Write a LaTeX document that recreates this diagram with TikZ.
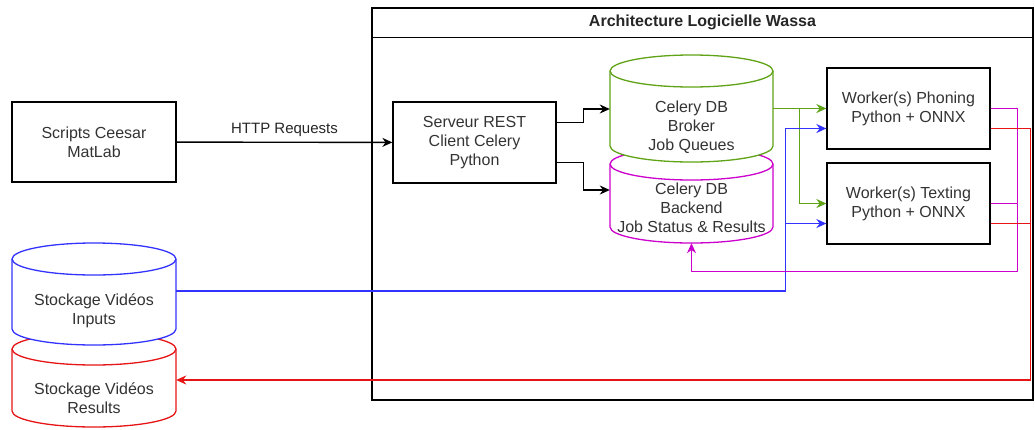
\documentclass[tikz,border=0pt]{standalone}
\usepackage{fontspec}
\setmainfont{Liberation Sans}
\usetikzlibrary{arrows.meta,calc}

\definecolor{brokergreen}{RGB}{96,163,23}
\definecolor{backendpink}{RGB}{204,0,204}
\definecolor{inputblue}{RGB}{51,51,255}
\definecolor{resultred}{RGB}{230,20,20}

% database cylinder: colour, left x, top y, right x, bottom y
\newcommand{\dbshape}[5]{%
\draw[#1, line width=1.3pt, fill=white] (#2,#3+16) -- (#2,#5-16)
  arc[start angle=180, end angle=360, x radius={(#4-#2)/2*1pt}, y radius=16pt]
  -- (#4,#3+16)
  arc[start angle=0, end angle=180, x radius={(#4-#2)/2*1pt}, y radius=16pt] -- cycle;
\draw[#1, line width=1.3pt] (#2,#3+16)
  arc[start angle=180, end angle=360, x radius={(#4-#2)/2*1pt}, y radius=16pt];}

\tikzset{
  box/.style={draw, line width=1.3pt, minimum width=163pt, minimum height=81pt, align=center, text=black!80},
  dbtext/.style={minimum width=163pt, align=center, text=black!80, inner sep=0pt},
  link/.style={line width=1.4pt, -{Stealth[length=10pt,width=9pt]}},
  stub/.style={line width=1.4pt},
}

\begin{document}
\begin{tikzpicture}[x=1pt, y=-1pt, font=\fontsize{16}{19}\selectfont]
\useasboundingbox (0,0) rectangle (1035,429);

% container
\node[draw, line width=1.3pt, minimum width=661pt, minimum height=392pt, inner sep=0pt] (archi) at (702.5,204) {};
\draw[line width=1.3pt] ([yshift=-30pt]archi.north west) -- ([yshift=-30pt]archi.north east);
\node[font=\fontsize{16}{19}\selectfont\bfseries, text=black!85] (title) at ([yshift=-15pt]archi.north) {Architecture Logicielle Wassa};

% databases
\dbshape{backendpink}{610}{148}{773}{243}
\dbshape{brokergreen}{610}{55}{773}{162}
\dbshape{resultred}{12}{333}{176}{427}
\dbshape{inputblue}{12}{243}{176}{345}

\node[dbtext] (broker) at (691.5,127) {Celery DB\\Broker\\Job Queues};
\node[dbtext, minimum height=70pt] (backend) at (691.5,208) {Celery DB\\Backend\\Job Status \& Results};
\node[dbtext, minimum width=164pt] (inputs) at (94,311) {Stockage Vidéos\\Inputs};
\node[dbtext, minimum width=164pt] (results) at (94,398) {Stockage Vidéos\\Results};

% boxes
\node[box, minimum width=164pt, minimum height=80pt] (scripts) at (94,142) {Scripts Ceesar\\MatLab};
\node[box] (rest) at (474.5,142.5) {Serveur REST\\Client Celery\\Python};
\node[box] (phoning) at (908.5,108.5) {Worker(s) Phoning\\Python + ONNX};
\node[box] (texting) at (908.5,203.5) {Worker(s) Texting\\Python + ONNX};

% connectors
\draw[link] (scripts) -- node[above=2pt, font=\fontsize{15}{18}\selectfont, text=black!85] (http) {HTTP Requests} (rest);
\draw[link] ([yshift=20pt]rest.east) -- ++(27,0) |- ([yshift=18pt]broker.west);
\draw[link] ([yshift=-20pt]rest.east) -- ++(27,0) |- ([yshift=18pt]backend.west);

\draw[link, brokergreen] (broker.east |- phoning.west) -- (phoning.west);
\draw[link, brokergreen] (broker.east |- phoning.west) ++(26,0) |- (texting.west);

\draw[link, inputblue] ([yshift=20pt]inputs.east) -| ([xshift=-41pt,yshift=-20pt]phoning.west) -- ([yshift=-20pt]phoning.west);
\draw[link, inputblue] ([xshift=-41pt,yshift=-20pt]texting.west) -- ([yshift=-20pt]texting.west);

\draw[link, backendpink] (phoning.east) -- ++(27,0) |- ([yshift=-28pt]backend.south) -- (backend.south);
\draw[stub, backendpink] (texting.east) -- ++(27,0);

\draw[link, resultred] ([yshift=-20pt]phoning.east) -- ++(40,0) |- ([yshift=18pt]results.east);
\draw[stub, resultred] ([yshift=-20pt]texting.east) -- ++(40,0);
\end{tikzpicture}
\end{document}
